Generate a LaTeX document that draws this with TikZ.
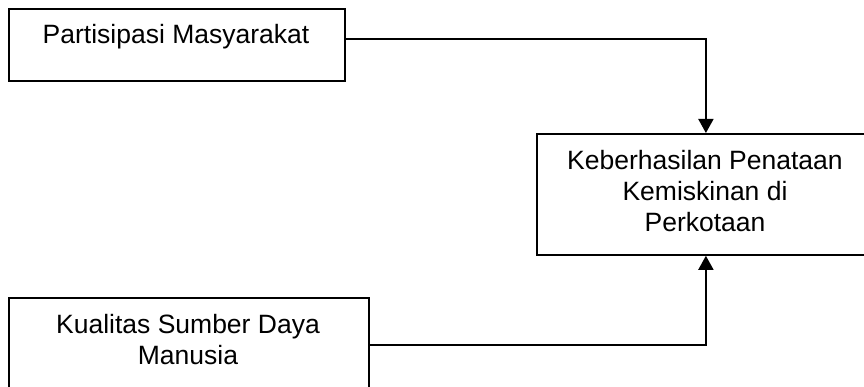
\documentclass[tikz,border=0pt]{standalone}
\usepackage{fontspec}
\setmainfont{Liberation Sans}
\usetikzlibrary{arrows.meta}
\begin{document}
\begin{tikzpicture}[x=1pt, y=-1pt,
  box/.style={draw, line width=1.8pt, rectangle, inner sep=0pt, anchor=north west},
  label/.style={font=\fontsize{26.5}{31}\selectfont, align=center, inner sep=0pt, anchor=base},
  conn/.style={line width=1.8pt, -{Triangle[length=14pt, width=15pt]}}]
  \useasboundingbox (0,0) rectangle (864,387);
  \clip (0,0) rectangle (864,387);
  % boxes (the right and bottom boxes run past the page edge)
  \node[box, minimum width=336pt, minimum height=72pt] (b1) at (8,8) {};
  \node[box, minimum width=338pt, minimum height=121pt] (b2) at (536,133) {};
  \node[box, minimum width=360pt, minimum height=103pt] (b3) at (8,297) {};
  % box texts (a node's base is the baseline of its last line)
  \node[label] (t1) at (176,44) {Partisipasi Masyarakat};
  \node[label] (t2) at (705,231.5) {Keberhasilan Penataan\\Kemiskinan di\\Perkotaan};
  \node[label] (t3) at (188,364.5) {Kualitas Sumber Daya\\Manusia};
  % connectors
  \draw[conn] ([yshift=-31pt]b1.north east) -| (b2.north);
  \draw[conn] ([yshift=-48pt]b3.north east) -| (b2.south);
\end{tikzpicture}
\end{document}
